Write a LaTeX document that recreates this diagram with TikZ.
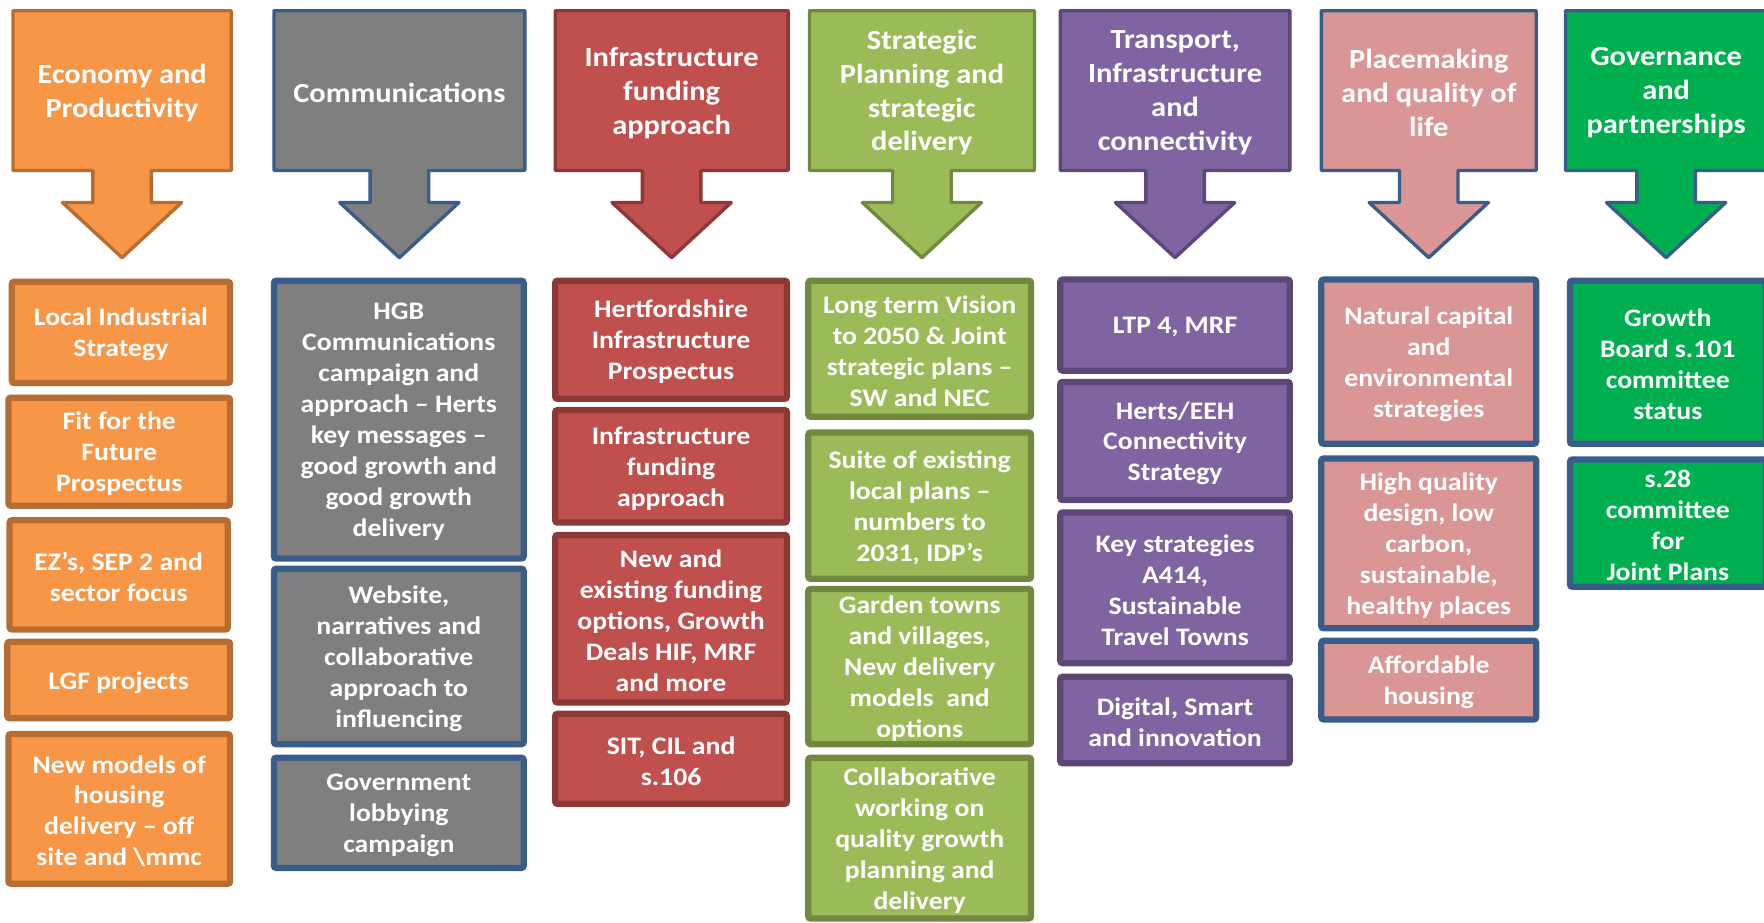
\documentclass[tikz,border=0pt]{standalone}
\usepackage{fontspec}
\newfontfamily\calfont[FakeStretch=1.1]{Carlito}

\definecolor{orgfill}{HTML}{F79646}
\definecolor{orgline}{HTML}{B66D31}
\definecolor{grayfill}{HTML}{7F7F7F}
\definecolor{blueline}{HTML}{385D8A}
\definecolor{redfill}{HTML}{C0504D}
\definecolor{redline}{HTML}{8C3836}
\definecolor{grnfill}{HTML}{9BBB59}
\definecolor{grnline}{HTML}{71893F}
\definecolor{purfill}{HTML}{8064A2}
\definecolor{purline}{HTML}{5C4776}
\definecolor{pinkfill}{HTML}{D99694}
\definecolor{dgrnfill}{HTML}{00B050}

\tikzset{
	headbox/.style={line width=1.5pt, line join=round},
	lowbox/.style={line width=2.75pt, rounded corners=1pt},
	headtext/.style={text=white, align=center, font=\calfont\bfseries\fontsize{12.3}{15}\selectfont},
	lowtext/.style={text=white, align=center, font=\calfont\bfseries\fontsize{11.2}{13.75}\selectfont}
}

\begin{document}
\begin{tikzpicture}[x=0.5pt, y=-0.5pt]
		\useasboundingbox (0,0) rectangle (1568,820);
		
		% theme headers with down arrows
		\foreach \n/\l/\r/\fc/\lc/\txt in {econ/10/207/orgfill/orgline/{Economy and\\Productivity}, comms/242/468/grayfill/blueline/{Communications}, infra/492/702/redfill/redline/{Infrastructure\\funding\\approach}, strat/718/921/grnfill/grnline/{Strategic\\Planning and\\strategic\\delivery}, trans/941/1148/purfill/purline/{Transport,\\Infrastructure\\and\\connectivity}, place/1173/1367/pinkfill/blueline/{Placemaking\\and quality of\\life}, gov/1390/1572/dgrnfill/blueline/{Governance\\and\\partnerships}}
		{
			\pgfmathsetmacro{\cx}{(\l+\r)/2}
			\draw[headbox, fill=\fc, draw=\lc] (\l+1.5,9.5) -- (\r-1.5,9.5) -- (\r-1.5,151.5) -- (\cx+26,151.5) -- (\cx+26,180) -- (\cx+53,180) -- (\cx,229) -- (\cx-53,180) -- (\cx-26,180) -- (\cx-26,151.5) -- (\l+1.5,151.5) -- cycle;
			\node[headtext] (\n) at (\cx,82.5) {\txt};
		}
		
		% economy
		\foreach \n/\l/\t/\r/\b/\txt in {lis/8/248/207/343/{Local Industrial\\Strategy}, ffp/5/351/207/452/{Fit for the\\Future\\Prospectus}, ezs/6/460/205/562/{EZ’s, SEP 2 and\\sector focus}, lgf/4/568/207/641/{LGF projects}, nmh/5/650/207/788/{New models of\\housing\\delivery – off\\site and \textbackslash mmc}}
		{
			\draw[lowbox, fill=orgfill, draw=orgline] (\l+2.5,\t+2.5) rectangle (\r-2.5,\b-2.5);
			\node[lowtext] (\n) at ({(\l+\r)/2},{(\t+\b)/2+2}) {\txt};
		}
		
		% communications
		\foreach \n/\t/\b/\txt in {hgb/247/499/{HGB\\Communications\\campaign and\\approach – Herts\\key messages –\\good growth and\\good growth\\delivery}, web/503/664/{Website,\\narratives and\\collaborative\\approach to\\influencing}, lob/671/774/{Government\\lobbying\\campaign}}
		{
			\draw[lowbox, fill=grayfill, draw=blueline] (243.5,\t+2.5) rectangle (465.5,\b-2.5);
			\node[lowtext] (\n) at (354.5,{(\t+\b)/2+2}) {\txt};
		}
		
		% infrastructure funding
		\foreach \n/\t/\b/\txt in {hip/247/357/{Hertfordshire\\Infrastructure\\Prospectus}, ifa/362/467/{Infrastructure\\funding\\approach}, nef/473/627/{New and\\existing funding\\options, Growth\\Deals HIF, MRF\\and more}, sit/632/717/{SIT, CIL and\\s.106}}
		{
			\draw[lowbox, fill=redfill, draw=redline] (493.5,\t+2.5) rectangle (699.5,\b-2.5);
			\node[lowtext] (\n) at (596.5,{(\t+\b)/2+2}) {\txt};
		}
		
		% strategic planning
		\foreach \n/\t/\b/\txt in {ltv/247/373/{Long term Vision\\to 2050 \& Joint\\strategic plans –\\SW and NEC}, sel/382/517/{Suite of existing\\local plans –\\numbers to\\2031, IDP’s}, gtv/521/664/{Garden towns\\and villages,\\New delivery\\models~ and\\options}, cwq/671/819/{Collaborative\\working on\\quality growth\\planning and\\delivery}}
		{
			\draw[lowbox, fill=grnfill, draw=grnline] (718.5,\t+2.5) rectangle (916.5,\b-2.5);
			\node[lowtext] (\n) at (817.5,{(\t+\b)/2+2}) {\txt};
		}
		
		% transport
		\foreach \n/\t/\b/\txt in {ltp/246/332/{LTP 4, MRF}, eeh/337/447/{Herts/EEH\\Connectivity\\Strategy}, key/453/592/{Key strategies\\A414,\\Sustainable\\Travel Towns}, dsi/599/681/{Digital, Smart\\and innovation}}
		{
			\draw[lowbox, fill=purfill, draw=purline] (942.5,\t+2.5) rectangle (1146.5,\b-2.5);
			\node[lowtext] (\n) at (1044.5,{(\t+\b)/2+2}) {\txt};
		}
		
		% placemaking
		\foreach \n/\t/\b/\txt in {ncs/246/397/{Natural capital\\and\\environmental\\strategies}, hqd/405/561/{High quality\\design, low\\carbon,\\sustainable,\\healthy places}, afh/567/642/{Affordable\\housing}}
		{
			\draw[lowbox, fill=pinkfill, draw=blueline] (1174.5,\t+2.5) rectangle (1365.5,\b-2.5);
			\node[lowtext] (\n) at (1270,{(\t+\b)/2+2}) {\txt};
		}
		
		% governance
		\foreach \n/\t/\b/\txt in {gbs/247/397/{Growth\\Board s.101\\committee\\status}, sjp/406/524/{s.28\\committee\\for\\Joint Plans}}
		{
			\draw[lowbox, fill=dgrnfill, draw=blueline] (1395.5,\t+2.5) rectangle (1569.5,\b-2.5);
			\node[lowtext] (\n) at (1482.5,{(\t+\b)/2+2}) {\txt};
		}
	\end{tikzpicture}
\end{document}
